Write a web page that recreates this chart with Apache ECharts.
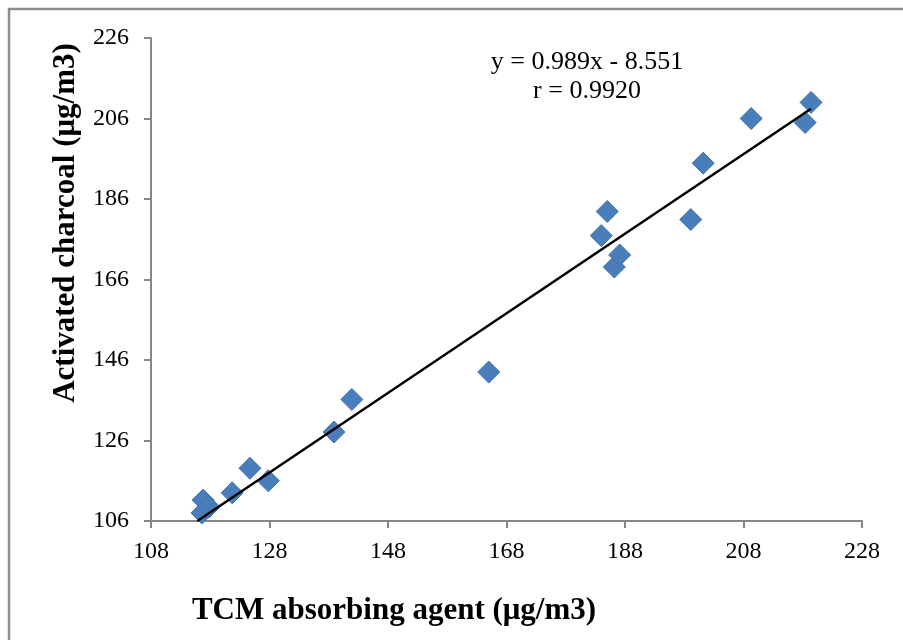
<!DOCTYPE html>
<html>
<head>
<meta charset="utf-8">
<script src="https://cdn.jsdelivr.net/npm/echarts@6/dist/echarts.min.js"></script>
<style>
  html, body { margin: 0; padding: 0; background: #fff; }
  #chart { width: 903px; height: 640px; }
</style>
</head>
<body>
<div id="chart"></div>
<script>
// Paired concentrations measured by the two samplers (µg/m3)
const tcmValues = [116.8, 117.8, 116.6, 121.7, 124.7, 127.8, 138.9, 141.9, 165.0,
                   184.0, 185.0, 186.2, 187.1, 199.1, 201.2, 209.3, 218.4, 219.4];
const charcoalValues = [111.2, 109.5, 108.0, 113.0, 119.1, 116.0, 128.1, 136.2, 143.0,
                        176.9, 182.9, 169.1, 172.1, 180.9, 194.9, 206.0, 205.0, 210.0];

// Least-squares fit reported for the data
const slope = 0.989;
const intercept = -8.551;
const fitText = ['y = 0.989x - 8.551', 'r = 0.9920'];

const xTitle = 'TCM absorbing agent (μg/m3)';
const yTitle = 'Activated charcoal (μg/m3)';

const points = tcmValues.map((x, i) => [x, charcoalValues[i]]);
const xLo = (106 - intercept) / slope;
const xHi = Math.max(...tcmValues);
const fitLine = [[xLo, slope * xLo + intercept], [xHi, slope * xHi + intercept]];

const serif = '"Liberation Serif", "Times New Roman", serif';
const axisGray = '#878787';

const chart = echarts.init(document.getElementById('chart'));
chart.setOption({
  animation: false,
  backgroundColor: '#fff',
  grid: { left: 151, right: 41, top: 38, bottom: 119 },
  graphic: [
    {
      type: 'rect', silent: true, z: -10,
      shape: { x: 9, y: 9, width: 1000, height: 800 },
      style: { fill: 'none', stroke: '#8c8c8c', lineWidth: 2.5 }
    },
    {
      type: 'text', x: 587, y: 48,
      style: {
        text: fitText.join('\n'), fill: '#000', align: 'center', verticalAlign: 'top',
        font: '26px ' + serif, lineHeight: 29
      }
    },
    {
      type: 'text', x: 394, y: 611,
      style: {
        text: xTitle, fill: '#000', align: 'center', verticalAlign: 'middle',
        font: 'bold 31px ' + serif
      }
    },
    {
      type: 'text', x: 66, y: 223, rotation: Math.PI / 2,
      style: {
        text: yTitle, fill: '#000', align: 'center', verticalAlign: 'middle',
        font: 'bold 31px ' + serif
      }
    }
  ],
  xAxis: {
    type: 'value', min: 108, max: 228, interval: 20,
    axisLine: { lineStyle: { color: axisGray, width: 2 } },
    axisTick: { show: true, length: 7, lineStyle: { color: axisGray, width: 2 } },
    axisLabel: { fontFamily: serif, fontSize: 24, color: '#000', margin: 19 },
    splitLine: { show: false }
  },
  yAxis: {
    type: 'value', min: 106, max: 226, interval: 20,
    axisLine: { show: true, lineStyle: { color: axisGray, width: 2 } },
    axisTick: { show: true, length: 7, lineStyle: { color: axisGray, width: 2 } },
    axisLabel: { fontFamily: serif, fontSize: 24, color: '#000', margin: 22 },
    splitLine: { show: false }
  },
  series: [
    {
      type: 'scatter', data: points, symbol: 'diamond', symbolSize: 22,
      itemStyle: { color: '#4a7ebb', borderColor: '#4172b0', borderWidth: 1, opacity: 1 },
      z: 3
    },
    {
      type: 'line', data: fitLine, showSymbol: false, symbol: 'none',
      lineStyle: { color: '#000', width: 2.5 }, z: 4, silent: true
    }
  ]
});
</script>
</body>
</html>
